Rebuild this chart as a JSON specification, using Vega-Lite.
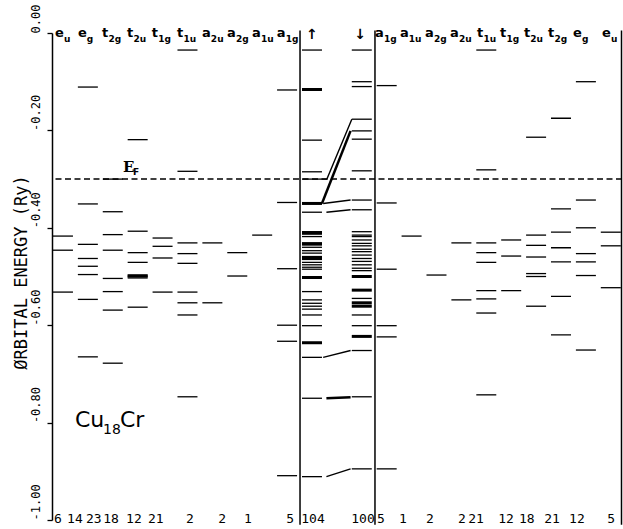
{
  "$schema": "https://vega.github.io/schema/vega-lite/v6.json",
  "width": 570,
  "height": 487,
  "autosize": {"type": "none"},
  "padding": {"left": 52, "top": 33, "right": 1, "bottom": 9},
  "background": "white",
  "config": {"view": {"stroke": null}},
  "datasets": {
    "levels": [
      {"x": 1, "e": -0.417}, {"x": 1, "e": -0.446}, {"x": 1, "e": -0.532},
      {"x": 2, "e": -0.111}, {"x": 2, "e": -0.351}, {"x": 2, "e": -0.434}, {"x": 2, "e": -0.463}, {"x": 2, "e": -0.479}, {"x": 2, "e": -0.496}, {"x": 2, "e": -0.547}, {"x": 2, "e": -0.665},
      {"x": 3, "e": -0.300}, {"x": 3, "e": -0.367}, {"x": 3, "e": -0.414}, {"x": 3, "e": -0.446}, {"x": 3, "e": -0.504}, {"x": 3, "e": -0.531}, {"x": 3, "e": -0.569}, {"x": 3, "e": -0.678},
      {"x": 4, "e": -0.219}, {"x": 4, "e": -0.407}, {"x": 4, "e": -0.451}, {"x": 4, "e": -0.471}, {"x": 4, "e": -0.497}, {"x": 4, "e": -0.500}, {"x": 4, "e": -0.503}, {"x": 4, "e": -0.563},
      {"x": 5, "e": -0.421}, {"x": 5, "e": -0.438}, {"x": 5, "e": -0.462}, {"x": 5, "e": -0.532},
      {"x": 6, "e": -0.035}, {"x": 6, "e": -0.284}, {"x": 6, "e": -0.431}, {"x": 6, "e": -0.453}, {"x": 6, "e": -0.473}, {"x": 6, "e": -0.532}, {"x": 6, "e": -0.554}, {"x": 6, "e": -0.579}, {"x": 6, "e": -0.747},
      {"x": 7, "e": -0.431}, {"x": 7, "e": -0.554},
      {"x": 8, "e": -0.451}, {"x": 8, "e": -0.499},
      {"x": 9, "e": -0.415},
      {"x": 10, "e": -0.117}, {"x": 10, "e": -0.348}, {"x": 10, "e": -0.484}, {"x": 10, "e": -0.600}, {"x": 10, "e": -0.633}, {"x": 10, "e": -0.909},
      {"x": 11, "e": -0.035}, {"x": 11, "e": -0.220}, {"x": 11, "e": -0.285}, {"x": 11, "e": -0.300}, {"x": 11, "e": -0.368},
      {"x": 11, "e": -0.408}, {"x": 11, "e": -0.413}, {"x": 11, "e": -0.418}, {"x": 11, "e": -0.431}, {"x": 11, "e": -0.435}, {"x": 11, "e": -0.440}, {"x": 11, "e": -0.447}, {"x": 11, "e": -0.452}, {"x": 11, "e": -0.459}, {"x": 11, "e": -0.465}, {"x": 11, "e": -0.471}, {"x": 11, "e": -0.476}, {"x": 11, "e": -0.481}, {"x": 11, "e": -0.485},
      {"x": 11, "e": -0.531}, {"x": 11, "e": -0.548}, {"x": 11, "e": -0.555}, {"x": 11, "e": -0.561}, {"x": 11, "e": -0.567}, {"x": 11, "e": -0.579}, {"x": 11, "e": -0.601}, {"x": 11, "e": -0.666}, {"x": 11, "e": -0.750}, {"x": 11, "e": -0.911},
      {"x": 13, "e": -0.035}, {"x": 13, "e": -0.100}, {"x": 13, "e": -0.110}, {"x": 13, "e": -0.177}, {"x": 13, "e": -0.201}, {"x": 13, "e": -0.218}, {"x": 13, "e": -0.283}, {"x": 13, "e": -0.343}, {"x": 13, "e": -0.363},
      {"x": 13, "e": -0.408}, {"x": 13, "e": -0.415}, {"x": 13, "e": -0.418}, {"x": 13, "e": -0.425}, {"x": 13, "e": -0.432}, {"x": 13, "e": -0.437}, {"x": 13, "e": -0.444}, {"x": 13, "e": -0.449}, {"x": 13, "e": -0.456}, {"x": 13, "e": -0.463}, {"x": 13, "e": -0.469}, {"x": 13, "e": -0.476}, {"x": 13, "e": -0.483}, {"x": 13, "e": -0.488},
      {"x": 13, "e": -0.545}, {"x": 13, "e": -0.579}, {"x": 13, "e": -0.601}, {"x": 13, "e": -0.652}, {"x": 13, "e": -0.747}, {"x": 13, "e": -0.895},
      {"x": 14, "e": -0.108}, {"x": 14, "e": -0.349}, {"x": 14, "e": -0.485}, {"x": 14, "e": -0.601}, {"x": 14, "e": -0.624}, {"x": 14, "e": -0.895},
      {"x": 15, "e": -0.417},
      {"x": 16, "e": -0.497},
      {"x": 17, "e": -0.431}, {"x": 17, "e": -0.548},
      {"x": 18, "e": -0.035}, {"x": 18, "e": -0.281}, {"x": 18, "e": -0.431}, {"x": 18, "e": -0.451}, {"x": 18, "e": -0.471}, {"x": 18, "e": -0.529}, {"x": 18, "e": -0.546}, {"x": 18, "e": -0.575}, {"x": 18, "e": -0.743},
      {"x": 19, "e": -0.425}, {"x": 19, "e": -0.458}, {"x": 19, "e": -0.529},
      {"x": 20, "e": -0.214}, {"x": 20, "e": -0.415}, {"x": 20, "e": -0.436}, {"x": 20, "e": -0.460}, {"x": 20, "e": -0.494}, {"x": 20, "e": -0.500}, {"x": 20, "e": -0.561},
      {"x": 21, "e": -0.175}, {"x": 21, "e": -0.361}, {"x": 21, "e": -0.409}, {"x": 21, "e": -0.441}, {"x": 21, "e": -0.470}, {"x": 21, "e": -0.541}, {"x": 21, "e": -0.620},
      {"x": 22, "e": -0.100}, {"x": 22, "e": -0.343}, {"x": 22, "e": -0.400}, {"x": 22, "e": -0.453}, {"x": 22, "e": -0.470}, {"x": 22, "e": -0.498}, {"x": 22, "e": -0.651},
      {"x": 23, "e": -0.409}, {"x": 23, "e": -0.437}, {"x": 23, "e": -0.523}
    ],
    "thick": [
      {"x": 11, "e": -0.116}, {"x": 11, "e": -0.350}, {"x": 11, "e": -0.410}, {"x": 11, "e": -0.433}, {"x": 11, "e": -0.462}, {"x": 11, "e": -0.502}, {"x": 11, "e": -0.636},
      {"x": 13, "e": -0.500}, {"x": 13, "e": -0.528}, {"x": 13, "e": -0.554}, {"x": 13, "e": -0.561}, {"x": 13, "e": -0.623},
      {"x": 4, "e": -0.499}
    ],
    "conn": [
      {"id": "a", "x": 11.4, "e": -0.300}, {"id": "a", "x": 11.6, "e": -0.300}, {"id": "a", "x": 12.6, "e": -0.177},
      {"id": "c", "x": 11.45, "e": -0.350}, {"id": "c", "x": 12.55, "e": -0.343},
      {"id": "d", "x": 11.58, "e": -0.368}, {"id": "d", "x": 12.55, "e": -0.363},
      {"id": "e", "x": 11.45, "e": -0.666}, {"id": "e", "x": 12.55, "e": -0.652},
      {"id": "g", "x": 11.58, "e": -0.911}, {"id": "g", "x": 12.55, "e": -0.895}
    ],
    "connThick": [
      {"id": "b", "x": 11.4, "e": -0.350}, {"id": "b", "x": 12.55, "e": -0.201},
      {"id": "f", "x": 11.58, "e": -0.750}, {"id": "f", "x": 12.55, "e": -0.748}
    ],
    "sep": [
      {"x": 10.52, "e": 0.005, "e2": -1.01},
      {"x": 13.53, "e": 0.005, "e2": -1.01},
      {"x": 23.43, "e": 0.005, "e2": -1.01}
    ],
    "fermi": [{"e": -0.300}],
    "base": [
      {"x": 0.68, "e": -0.008, "t": "e"}, {"x": 1.60, "e": -0.008, "t": "e"}, {"x": 2.57, "e": -0.008, "t": "t"}, {"x": 3.57, "e": -0.008, "t": "t"}, {"x": 4.57, "e": -0.008, "t": "t"},
      {"x": 5.58, "e": -0.008, "t": "t"}, {"x": 6.58, "e": -0.008, "t": "a"}, {"x": 7.59, "e": -0.008, "t": "a"}, {"x": 8.59, "e": -0.008, "t": "a"}, {"x": 9.59, "e": -0.008, "t": "a"},
      {"x": 13.53, "e": -0.008, "t": "a"}, {"x": 14.53, "e": -0.008, "t": "a"}, {"x": 15.54, "e": -0.008, "t": "a"}, {"x": 16.54, "e": -0.008, "t": "a"}, {"x": 17.63, "e": -0.008, "t": "t"},
      {"x": 18.55, "e": -0.008, "t": "t"}, {"x": 19.51, "e": -0.008, "t": "t"}, {"x": 20.48, "e": -0.008, "t": "t"}, {"x": 21.48, "e": -0.008, "t": "e"}, {"x": 22.65, "e": -0.008, "t": "e"}
    ],
    "sub": [
      {"x": 1.04, "e": -0.018, "t": "u"}, {"x": 1.96, "e": -0.018, "t": "g"}, {"x": 2.83, "e": -0.018, "t": "2g"}, {"x": 3.83, "e": -0.018, "t": "2u"}, {"x": 4.83, "e": -0.018, "t": "1g"},
      {"x": 5.84, "e": -0.018, "t": "1u"}, {"x": 6.94, "e": -0.018, "t": "2u"}, {"x": 7.95, "e": -0.018, "t": "2g"}, {"x": 8.95, "e": -0.018, "t": "1u"}, {"x": 9.95, "e": -0.018, "t": "1g"},
      {"x": 13.89, "e": -0.018, "t": "1g"}, {"x": 14.89, "e": -0.018, "t": "1u"}, {"x": 15.90, "e": -0.018, "t": "2g"}, {"x": 16.90, "e": -0.018, "t": "2u"}, {"x": 17.89, "e": -0.018, "t": "1u"},
      {"x": 18.81, "e": -0.018, "t": "1g"}, {"x": 19.77, "e": -0.018, "t": "2u"}, {"x": 20.74, "e": -0.018, "t": "2g"}, {"x": 21.84, "e": -0.018, "t": "g"}, {"x": 23.01, "e": -0.018, "t": "u"}
    ],
    "arrows": [
      {"x": 11.0, "e": -0.012, "t": "↑"}, {"x": 12.93, "e": -0.012, "t": "↓"}
    ],
    "counts": [
      {"x": 0.80, "e": -0.997, "t": "6"}, {"x": 1.48, "e": -0.997, "t": "14"}, {"x": 2.24, "e": -0.997, "t": "23"}, {"x": 2.93, "e": -0.997, "t": "18"}, {"x": 3.85, "e": -0.997, "t": "12"},
      {"x": 4.73, "e": -0.997, "t": "21"}, {"x": 6.10, "e": -0.997, "t": "2"}, {"x": 7.39, "e": -0.997, "t": "2"}, {"x": 8.43, "e": -0.997, "t": "1"}, {"x": 10.12, "e": -0.997, "t": "5"},
      {"x": 11.04, "e": -0.997, "t": "104"}, {"x": 13.05, "e": -0.997, "t": "100"},
      {"x": 13.77, "e": -0.997, "t": "5"}, {"x": 14.65, "e": -0.997, "t": "1"}, {"x": 15.74, "e": -0.997, "t": "2"}, {"x": 17.02, "e": -0.997, "t": "2"}, {"x": 17.59, "e": -0.997, "t": "21"},
      {"x": 18.79, "e": -0.997, "t": "12"}, {"x": 19.63, "e": -0.997, "t": "18"}, {"x": 20.64, "e": -0.997, "t": "21"}, {"x": 21.64, "e": -0.997, "t": "12"}, {"x": 23.01, "e": -0.997, "t": "5"}
    ],
    "big": [
      {"x": 1.48, "e": -0.809, "t": "Cu"}, {"x": 3.29, "e": -0.809, "t": "Cr"}
    ],
    "small": [
      {"x": 2.61, "e": -0.823, "t": "18"}
    ],
    "ef": [{"x": 3.41, "e": -0.285, "t": "E"}],
    "efsub": [{"x": 3.81, "e": -0.292, "t": "F"}]
  },
  "encoding": {
    "x": {"field": "x", "type": "quantitative", "scale": {"domain": [0.56, 23.45], "nice": false, "zero": false}, "axis": null},
    "y": {
      "field": "e", "type": "quantitative",
      "scale": {"domain": [-1, 0], "nice": false, "zero": false},
      "axis": {
        "values": [0, -0.2, -0.4, -0.6, -0.8, -1],
        "labelExpr": "datum.value == 0 ? '0.00' : '-' + format(-datum.value, '.2f')",
        "labelAngle": -90, "labelAlign": "left", "labelBaseline": "alphabetic",
        "labelFont": "DejaVu Sans Mono", "labelFontSize": 12, "labelColor": "black",
        "labelPadding": 8, "labelOverlap": false, "labelFlush": false,
        "tickSize": 5, "tickColor": "black", "tickWidth": 1.3,
        "domainColor": "black", "domainWidth": 1.5, "grid": false,
        "title": "ØRBITAL ENERGY (Ry)", "titleFont": "DejaVu Sans Mono", "titleFontSize": 17,
        "titleFontWeight": "normal", "titleColor": "black",
        "titleX": -26, "titleY": 239, "titleBaseline": "alphabetic", "titleAngle": -90
      }
    }
  },
  "layer": [
    {"data": {"name": "fermi"}, "mark": {"type": "rule", "color": "black", "strokeWidth": 1.5, "strokeDash": [6, 3.5]}, "encoding": {"x": null}},
    {"data": {"name": "sep"}, "mark": {"type": "rule", "color": "black", "strokeWidth": 1.5}, "encoding": {"y2": {"field": "e2"}}},
    {"data": {"name": "levels"}, "mark": {"type": "tick", "orient": "horizontal", "size": 20, "thickness": 1.3, "color": "black", "opacity": 1}},
    {"data": {"name": "thick"}, "mark": {"type": "tick", "orient": "horizontal", "size": 20, "thickness": 3, "color": "black", "opacity": 1}},
    {"data": {"name": "conn"}, "mark": {"type": "line", "color": "black", "strokeWidth": 1.4}, "encoding": {"detail": {"field": "id"}}},
    {"data": {"name": "connThick"}, "mark": {"type": "line", "color": "black", "strokeWidth": 2.5}, "encoding": {"detail": {"field": "id"}}},
    {"data": {"name": "base"}, "mark": {"type": "text", "font": "DejaVu Sans", "fontSize": 13, "fontWeight": "bold", "align": "left", "baseline": "alphabetic", "color": "black"}, "encoding": {"text": {"field": "t"}}},
    {"data": {"name": "sub"}, "mark": {"type": "text", "font": "DejaVu Sans", "fontSize": 9, "fontWeight": "bold", "align": "left", "baseline": "alphabetic", "color": "black"}, "encoding": {"text": {"field": "t"}}},
    {"data": {"name": "arrows"}, "mark": {"type": "text", "font": "DejaVu Sans", "fontSize": 14, "fontWeight": "bold", "align": "center", "baseline": "alphabetic", "color": "black"}, "encoding": {"text": {"field": "t"}}},
    {"data": {"name": "counts"}, "mark": {"type": "text", "font": "DejaVu Sans Mono", "fontSize": 13, "align": "center", "baseline": "middle", "color": "black"}, "encoding": {"text": {"field": "t"}}},
    {"data": {"name": "big"}, "mark": {"type": "text", "font": "DejaVu Sans", "fontSize": 22, "align": "left", "baseline": "alphabetic", "color": "black"}, "encoding": {"text": {"field": "t"}}},
    {"data": {"name": "small"}, "mark": {"type": "text", "font": "DejaVu Sans", "fontSize": 14, "align": "left", "baseline": "alphabetic", "color": "black"}, "encoding": {"text": {"field": "t"}}},
    {"data": {"name": "ef"}, "mark": {"type": "text", "font": "DejaVu Serif", "fontSize": 15, "fontWeight": "bold", "align": "left", "baseline": "alphabetic", "color": "black"}, "encoding": {"text": {"field": "t"}}},
    {"data": {"name": "efsub"}, "mark": {"type": "text", "font": "DejaVu Sans", "fontSize": 9, "fontWeight": "bold", "align": "left", "baseline": "alphabetic", "color": "black"}, "encoding": {"text": {"field": "t"}}}
  ]
}
